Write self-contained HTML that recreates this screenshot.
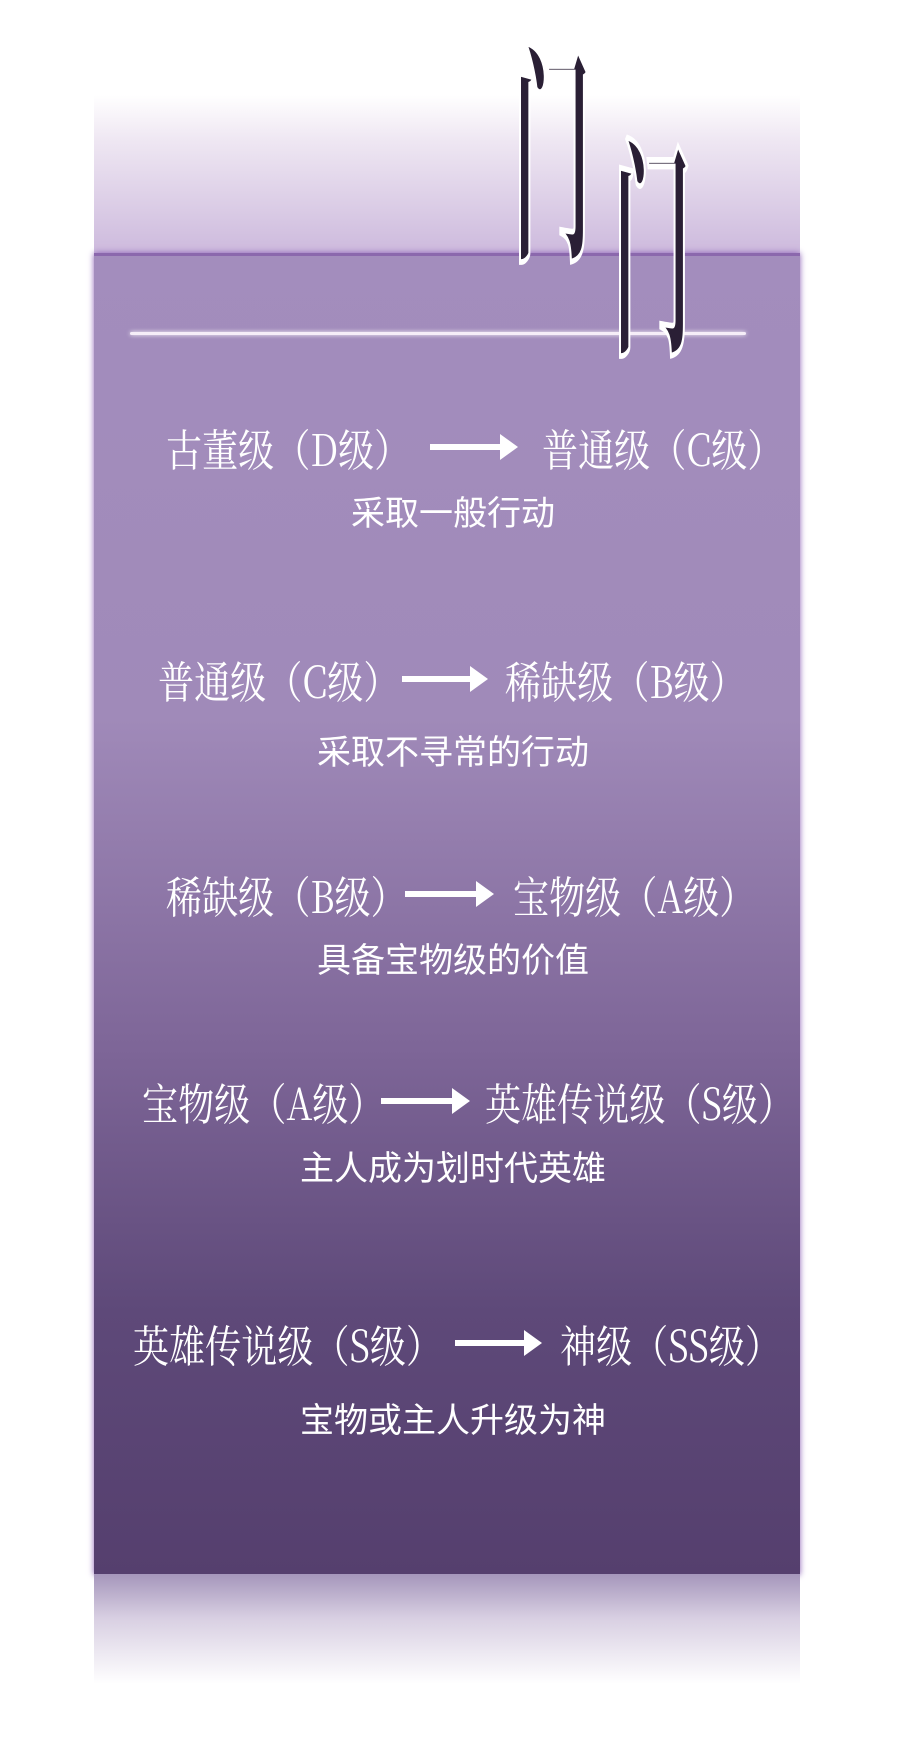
<!DOCTYPE html>
<html><head><meta charset="utf-8"><style>
html,body{margin:0;padding:0}
body{width:900px;height:1741px;position:relative;background:#fff;overflow:hidden;font-family:"Liberation Sans","Noto Sans CJK SC",sans-serif}
.hdr{position:absolute;left:94px;top:95px;width:706px;height:158px;background:linear-gradient(#fff 0%,#eee6f2 30%,#cdbadd 100%)}
.panel{position:absolute;left:94px;top:253px;width:706px;height:1319px;background:linear-gradient(#a38dbd 0%,#a08ab9 35%,#7e6698 60%,#5e4979 80%,#553f6e 100%);box-shadow:0 0 6px #8a5fb5;border-top:3px solid #8b68ad}
.refl{position:absolute;left:94px;top:1574px;width:706px;height:110px;background:linear-gradient(#a596bb,#d8cfe2 40%,#fff 100%)}
.line{position:absolute;left:130px;top:332px;width:616px;height:3px;background:#f6eef8;box-shadow:0 0 4px #fff;border-radius:2px}
.t{position:absolute;color:#fff;font-family:"Noto Serif CJK SC","Liberation Serif",serif;font-size:44px;white-space:nowrap;line-height:1;transform:scaleX(.82);transform-origin:left top}
.s{position:absolute;color:#fff;font-size:34px;white-space:nowrap;line-height:1;left:0;width:906px;text-align:center}
.ar{position:absolute;height:6px;background:#fff}
.ar:after{content:"";position:absolute;right:-14px;top:-10px;border-left:18px solid #fff;border-top:13px solid transparent;border-bottom:13px solid transparent}
.cal{position:absolute;font-family:"Noto Serif CJK SC",serif;font-size:80px;color:#2a1f35;-webkit-text-stroke:2px #fff;transform:scaleY(2.9);transform-origin:top left;font-weight:700;line-height:1}
</style></head><body>
<div class="hdr"></div>
<div class="panel"></div>
<div class="refl"></div>
<div class="line"></div>
<div class="cal" style="left:512px;top:27px">门</div>
<div class="cal" style="left:612px;top:121px">门</div>

<div class="t" style="left:166px;top:425px">古董级（D级）</div>
<div class="ar" style="left:430px;top:444px;width:74px"></div>
<div class="t" style="left:542px;top:425px">普通级（C级）</div>
<div class="s" style="top:497px">采取一般行动</div>

<div class="t" style="left:158px;top:657px">普通级（C级）</div>
<div class="ar" style="left:402px;top:676px;width:72px"></div>
<div class="t" style="left:505px;top:657px">稀缺级（B级）</div>
<div class="s" style="top:736px">采取不寻常的行动</div>

<div class="t" style="left:166px;top:872px">稀缺级（B级）</div>
<div class="ar" style="left:405px;top:891px;width:75px"></div>
<div class="t" style="left:513px;top:872px">宝物级（A级）</div>
<div class="s" style="top:944px">具备宝物级的价值</div>

<div class="t" style="left:142px;top:1079px">宝物级（A级）</div>
<div class="ar" style="left:381px;top:1098px;width:75px"></div>
<div class="t" style="left:485px;top:1079px">英雄传说级（S级）</div>
<div class="s" style="top:1152px">主人成为划时代英雄</div>

<div class="t" style="left:133px;top:1321px">英雄传说级（S级）</div>
<div class="ar" style="left:455px;top:1340px;width:73px"></div>
<div class="t" style="left:560px;top:1321px">神级（SS级）</div>
<div class="s" style="top:1404px">宝物或主人升级为神</div>
</body></html>
